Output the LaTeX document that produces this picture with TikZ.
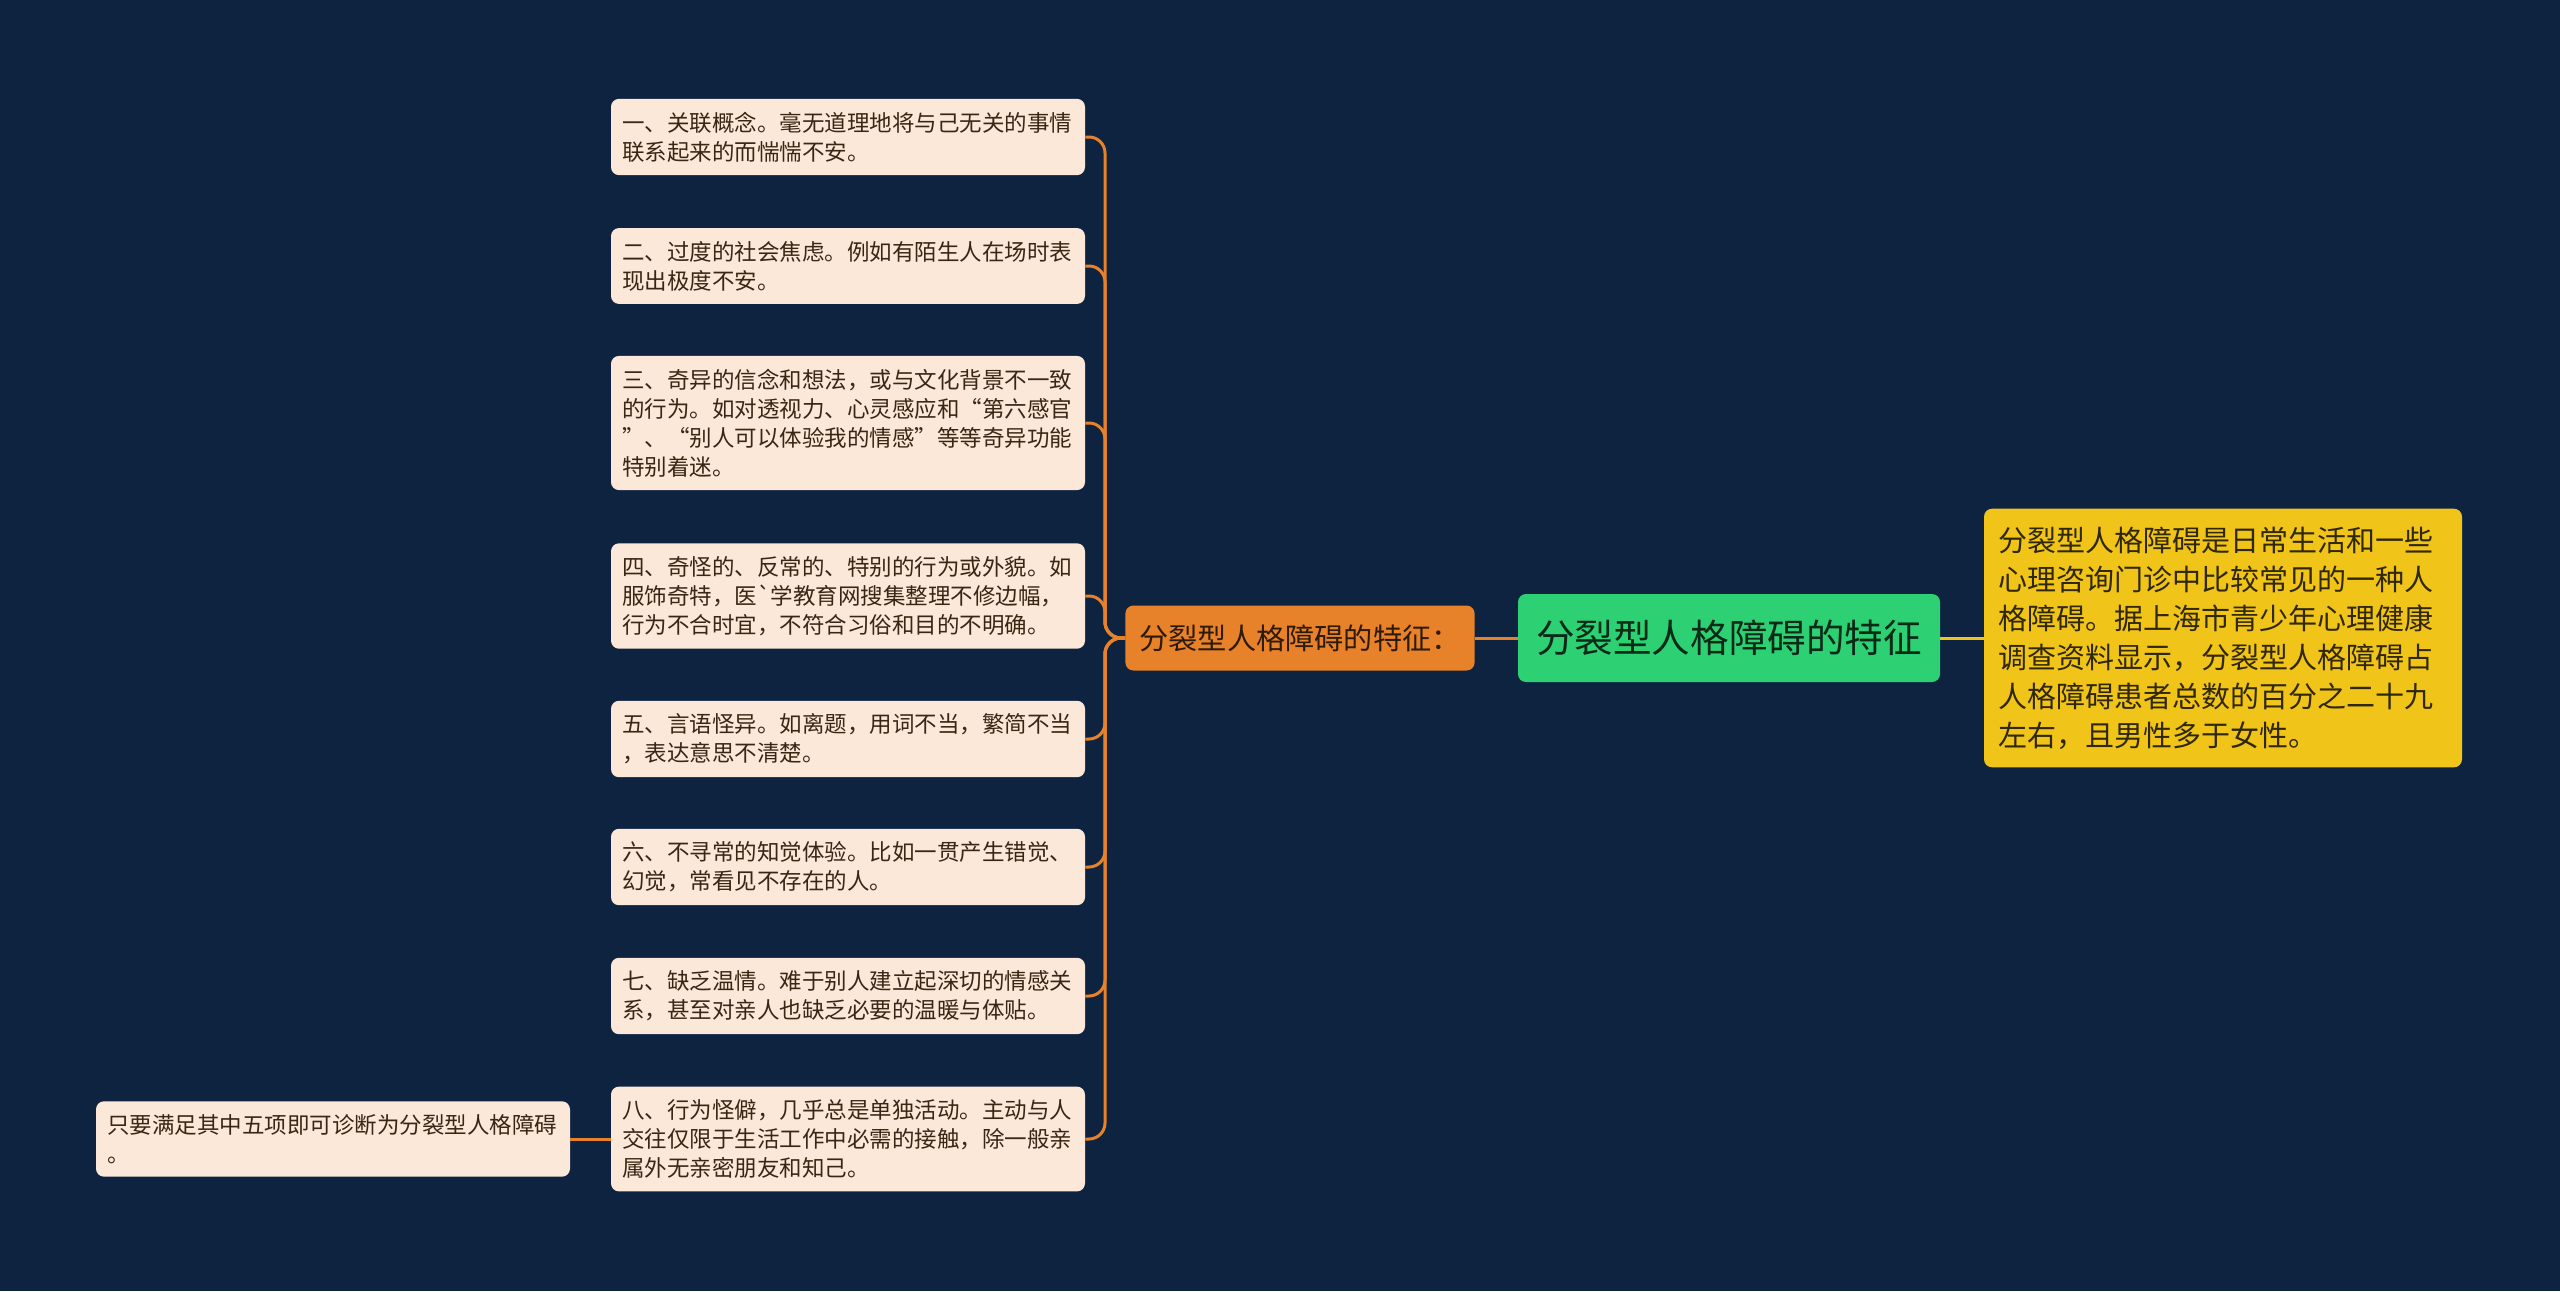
\documentclass[tikz,border=0pt]{standalone}
\usepackage{fontspec}
\newfontfamily\cjk{Noto Sans CJK SC}
\definecolor{bgc}{HTML}{0E2340}
\definecolor{itemfill}{HTML}{FCE8D8}
\definecolor{itemtext}{HTML}{3B2614}
\definecolor{orangec}{HTML}{E8822A}
\definecolor{greenc}{HTML}{2DD173}
\definecolor{yellowc}{HTML}{F0C419}

\begin{document}
\begin{tikzpicture}[x=0.5pt,y=-0.5pt]
	\tikzstyle{item}=[rectangle,rounded corners=4pt,fill=itemfill,text=itemtext,font=\cjk\fontsize{11.25}{14.5}\selectfont,text width=226pt,align=left,inner xsep=5.5pt,inner ysep=6.5pt]
	\tikzstyle{sub}=[rectangle,rounded corners=4pt,fill=orangec,text=black!80!orangec,font=\cjk\fontsize{14.6}{17}\selectfont,inner xsep=7pt,minimum width=173.5pt,minimum height=32.5pt]
	\tikzstyle{root}=[rectangle,rounded corners=4pt,fill=greenc,text=black!80!greenc,font=\cjk\fontsize{19.3}{23}\selectfont,inner xsep=9pt,minimum height=44pt]
	\tikzstyle{info}=[rectangle,rounded corners=4pt,fill=yellowc,text=black!80!yellowc,font=\cjk\fontsize{14.5}{19.5}\selectfont,text width=225pt,align=left,inner xsep=7pt,inner ysep=9pt]
	\tikzstyle{link}=[orangec,line width=1.5pt,rounded corners=8pt]

	\fill [bgc] (0,0) rectangle (2560,1291);

	\node [item] (b1) at (848,137) {一、关联概念。毫无道理地将与己无关的事情\\联系起来的而惴惴不安。};
	\node [item] (b2) at (848,266) {二、过度的社会焦虑。例如有陌生人在场时表\\现出极度不安。};
	\node [item] (b3) at (848,423) {三、奇异的信念和想法，或与文化背景不一致\\的行为。如对透视力、心灵感应和“第六感官\\”、“别人可以体验我的情感”等等奇异功能\\特别着迷。};
	\node [item] (b4) at (848,596) {四、奇怪的、反常的、特别的行为或外貌。如\\服饰奇特，医\symbol{96}学教育网搜集整理不修边幅，\\行为不合时宜，不符合习俗和目的不明确。};
	\node [item] (b5) at (848,739) {五、言语怪异。如离题，用词不当，繁简不当\\，表达意思不清楚。};
	\node [item] (b6) at (848,867) {六、不寻常的知觉体验。比如一贯产生错觉、\\幻觉，常看见不存在的人。};
	\node [item] (b7) at (848,996) {七、缺乏温情。难于别人建立起深切的情感关\\系，甚至对亲人也缺乏必要的温暖与体贴。};
	\node [item] (b8) at (848,1139) {八、行为怪僻，几乎总是单独活动。主动与人\\交往仅限于生活工作中必需的接触，除一般亲\\属外无亲密朋友和知己。};
	\node [item] (tip) at (333,1139) {只要满足其中五项即可诊断为分裂型人格障碍\\。};

	\node [sub] (feat) at (1300,638) {分裂型人格障碍的特征：};
	\node [root] (main) at (1729,638) {分裂型人格障碍的特征};
	\node [info] (desc) at (2223,638) {分裂型人格障碍是日常生活和一些\\心理咨询门诊中比较常见的一种人\\格障碍。据上海市青少年心理健康\\调查资料显示，分裂型人格障碍占\\人格障碍患者总数的百分之二十九\\左右，且男性多于女性。};

	\coordinate (bus) at (1105,638);
	\foreach \i in {1,...,8}
	  \draw [link] (feat.west) -- (bus) |- (b\i.east);

	\draw [link] (b8.west) -- (tip.east);
	\draw [link] (main.west) -- (feat.east);
	\draw [yellowc,line width=1.5pt] (main.east) -- (desc.west);
\end{tikzpicture}
\end{document}
